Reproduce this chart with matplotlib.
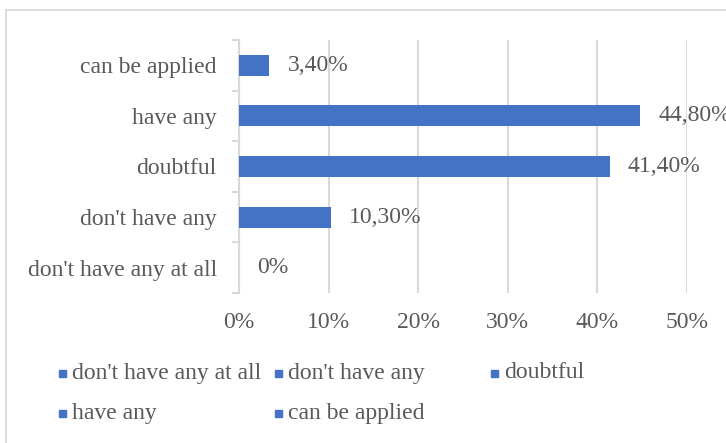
import matplotlib
matplotlib.use("Agg")
import matplotlib.pyplot as plt
from matplotlib.patches import Rectangle
from matplotlib.ticker import FuncFormatter, MultipleLocator

categories = ["don't have any at all", "don't have any", "doubtful", "have any", "can be applied"]
values = [0.0, 10.3, 41.4, 44.8, 3.4]
value_labels = ["0%", "10,30%", "41,40%", "44,80%", "3,40%"]

BAR = "#4472C4"
TXT = "#595959"
GRID = "#D9D9D9"
FS = 17

plt.rcParams['font.family'] = ['Liberation Serif', 'DejaVu Serif']

fig = plt.figure(figsize=(7.26, 4.43), dpi=100)
W, H = 726, 443

# chart border
fig.patches.append(Rectangle((6 / W, -0.1), 1.2, 1 - 10 / H + 0.1, transform=fig.transFigure,
                             fill=False, edgecolor=GRID, linewidth=1.3))

ax = fig.add_axes([239 / W, 1 - 293 / H, 448 / W, 253 / H])
y = list(range(len(categories)))
ax.barh(y, values, height=0.415, color=BAR, zorder=3)
ax.set_ylim(-0.5, len(categories) - 0.5)
ax.set_xlim(0, 50)
ax.xaxis.set_major_locator(MultipleLocator(10))
ax.xaxis.set_major_formatter(FuncFormatter(lambda v, p: f"{int(round(v))}%"))
ax.grid(axis='x', color=GRID, linewidth=1.5, zorder=0)
for s in ['top', 'right', 'bottom']:
    ax.spines[s].set_visible(False)
ax.spines['left'].set_color(GRID)
ax.spines['left'].set_linewidth(1.5)
ax.set_yticks(y)
ax.set_yticklabels(categories, fontsize=FS, color=TXT)
ax.set_yticks([i - 0.5 for i in range(len(categories) + 1)], minor=True)
ax.tick_params(axis='y', which='major', length=0, pad=16)
ax.tick_params(axis='y', which='minor', length=5, width=1.5, color=GRID)
ax.tick_params(axis='x', length=0, pad=14, labelsize=FS, labelcolor=TXT)

for yi, v, lab in zip(y, values, value_labels):
    ax.annotate(lab, (v, yi), xytext=(13, 0), textcoords='offset points',
                va='center', ha='left', fontsize=FS, color=TXT, annotation_clip=False)

# legend (row-wise, 3 columns, fixed column width as in the source)
leg_x0, leg_dx = 59, 216
leg_rows_y = [373, 413]
for i, cat in enumerate(categories):
    r, c = divmod(i, 3)
    xm = leg_x0 + c * leg_dx
    yc = leg_rows_y[r]
    fig.patches.append(Rectangle((xm / W, 1 - (yc + 3.5) / H), 7 / W, 7 / H,
                                 transform=fig.transFigure, color=BAR))
    fig.text((xm + 13) / W, 1 - yc / H, cat, fontsize=FS, color=TXT, va='center', ha='left')

fig.savefig("out.png", dpi=100)
